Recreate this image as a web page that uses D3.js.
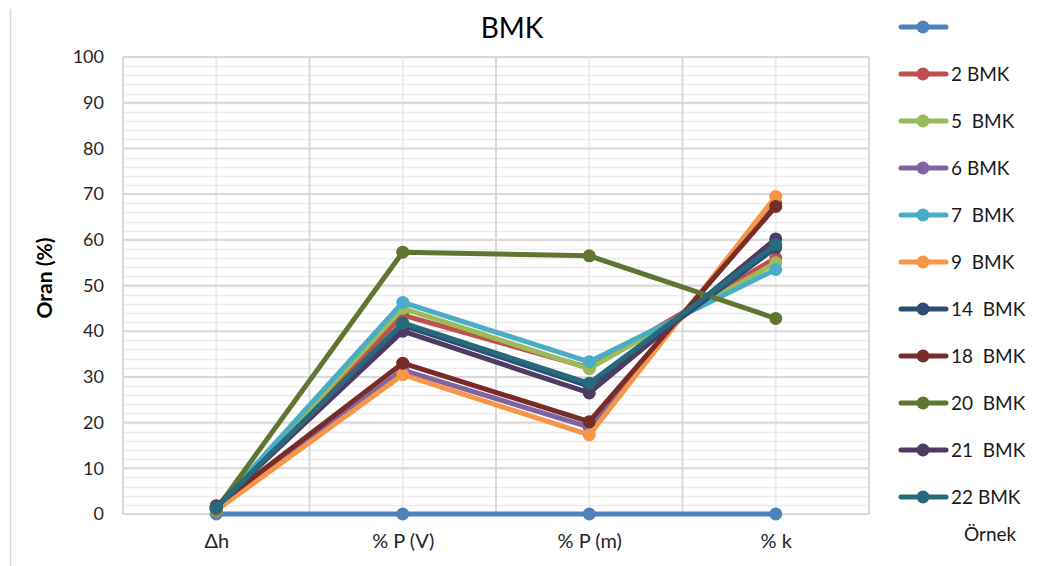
<!DOCTYPE html>
<html>
<head>
<meta charset="utf-8">
<script src="https://cdn.jsdelivr.net/npm/d3@7/dist/d3.min.js"></script>
<style>
  html, body { margin: 0; padding: 0; background: #fff; }
  svg { display: block; font-family: Lato, "Open Sans", sans-serif; }
</style>
</head>
<body>
<svg id="chart" width="1041" height="566"></svg>
<script>
// Categories along the x axis
const categories = ["Δh", "% P (V)", "% P (m)", "% k"];

// Series names (legend order) and values per category
const seriesNames = ["", "2 BMK", "5  BMK", "6 BMK", "7  BMK", "9  BMK", "14  BMK", "18  BMK", "20  BMK", "21  BMK", "22 BMK"];
const sBlank = [0, 0, 0, 0];
const s2   = [1.2, 43.5, 32.0, 56.0];
const s5   = [1.0, 45.0, 31.8, 55.0];
const s6   = [1.0, 31.5, 19.0, 68.0];
const s7   = [1.3, 46.3, 33.3, 53.5];
const s9   = [0.8, 30.5, 17.3, 69.5];
const s14  = [1.5, 41.3, 28.0, 58.3];
const s18  = [1.8, 33.0, 20.2, 67.3];
const s20  = [1.0, 57.3, 56.5, 42.8];
const s21  = [1.6, 40.0, 26.5, 60.2];
const s22  = [1.4, 41.8, 28.6, 58.9];
const seriesValues = [sBlank, s2, s5, s6, s7, s9, s14, s18, s20, s21, s22];

const seriesColors = ["#4f81bd", "#c0504d", "#9bbb59", "#8064a2", "#4bacc6", "#f79646",
                      "#2c4d75", "#772c2a", "#5f7530", "#4d3b62", "#276a7c"];

// Axis ticks
const yTicks = [0, 10, 20, 30, 40, 50, 60, 70, 80, 90, 100];

const svg = d3.select("#chart");
const plot = { left: 123, right: 869, top: 57, bottom: 514 };

const x = d3.scalePoint().domain(categories).range([plot.left, plot.right]).padding(0.5);
const y = d3.scaleLinear().domain([0, 100]).range([plot.bottom, plot.top]);

// Outer frame line on the left edge
svg.append("line").attr("x1", 10.5).attr("x2", 10.5).attr("y1", 9).attr("y2", 566)
  .attr("stroke", "#d9d9d9").attr("stroke-width", 1.5);

// Minor horizontal grid every 2 units
const grid = svg.append("g");
grid.selectAll("line.hmin").data(d3.range(0, 101, 2)).join("line")
  .attr("x1", plot.left).attr("x2", plot.right)
  .attr("y1", d => Math.round(y(d)) + 0.5).attr("y2", d => Math.round(y(d)) + 0.5)
  .attr("stroke", "#ececec").attr("stroke-width", 1.5);

// Vertical grid: lighter at categories, darker between them
const step = x.step();
grid.selectAll("line.vmin").data(categories).join("line")
  .attr("x1", d => x(d)).attr("x2", d => x(d))
  .attr("y1", plot.top).attr("y2", plot.bottom)
  .attr("stroke", "#ececec").attr("stroke-width", 2);
grid.selectAll("line.vmaj").data(d3.range(categories.length + 1)).join("line")
  .attr("x1", i => plot.left + i * step).attr("x2", i => plot.left + i * step)
  .attr("y1", plot.top).attr("y2", plot.bottom)
  .attr("stroke", "#d9d9d9").attr("stroke-width", 2);

// Major horizontal grid every 10 units
grid.selectAll("line.hmaj").data(yTicks).join("line")
  .attr("x1", plot.left).attr("x2", plot.right)
  .attr("y1", d => y(d)).attr("y2", d => y(d))
  .attr("stroke", "#d9d9d9").attr("stroke-width", 2);

// Y axis tick labels
const yAxis = d3.axisLeft(y).tickValues(yTicks).tickSize(0).tickPadding(19);
const gy = svg.append("g").attr("transform", `translate(${plot.left},0)`).call(yAxis);
gy.select(".domain").remove();
gy.selectAll("text").attr("font-size", 18).attr("fill", "#262626")
  .attr("font-family", "Lato, 'Open Sans', sans-serif");

// X axis labels
const xAxis = d3.axisBottom(x).tickSize(0).tickPadding(20);
const gx = svg.append("g").attr("transform", `translate(0,${plot.bottom})`).call(xAxis);
gx.select(".domain").remove();
gx.selectAll("text").attr("font-size", 20).attr("fill", "#262626")
  .attr("font-family", "Lato, 'Open Sans', sans-serif");

// Series lines with markers
const line = d3.line().x((d, i) => x(categories[i])).y(d => y(d));
seriesValues.forEach((vals, k) => {
  const g = svg.append("g");
  g.append("path").datum(vals).attr("d", line)
    .attr("fill", "none").attr("stroke", seriesColors[k])
    .attr("stroke-width", 5).attr("stroke-linejoin", "round").attr("stroke-linecap", "round");
  g.selectAll("circle").data(vals).join("circle")
    .attr("cx", (d, i) => x(categories[i])).attr("cy", d => y(d))
    .attr("r", 6.5).attr("fill", seriesColors[k]);
});

// Title
svg.append("text").attr("x", 512).attr("y", 38).attr("text-anchor", "middle")
  .attr("font-size", 28).attr("fill", "#000").text("BMK");

// Y axis title
svg.append("text").attr("transform", "translate(52,278) rotate(-90)")
  .attr("text-anchor", "middle").attr("font-size", 21).attr("font-weight", "bold")
  .attr("fill", "#000").text("Oran (%)");

// Legend
const legend = svg.append("g");
seriesNames.forEach((name, k) => {
  const ly = 27 + k * 47;
  legend.append("line").attr("x1", 901).attr("x2", 946).attr("y1", ly).attr("y2", ly)
    .attr("stroke", seriesColors[k]).attr("stroke-width", 5).attr("stroke-linecap", "round");
  legend.append("circle").attr("cx", 923).attr("cy", ly).attr("r", 6.5).attr("fill", seriesColors[k]);
  legend.append("text").attr("x", 951).attr("y", ly + 7).attr("font-size", 19)
    .attr("fill", "#1a1a1a").attr("xml:space", "preserve").style("white-space", "pre").text(name);
});
legend.append("text").attr("x", 964).attr("y", 541).attr("font-size", 19)
  .attr("fill", "#1a1a1a").text("Örnek");
</script>
</body>
</html>
